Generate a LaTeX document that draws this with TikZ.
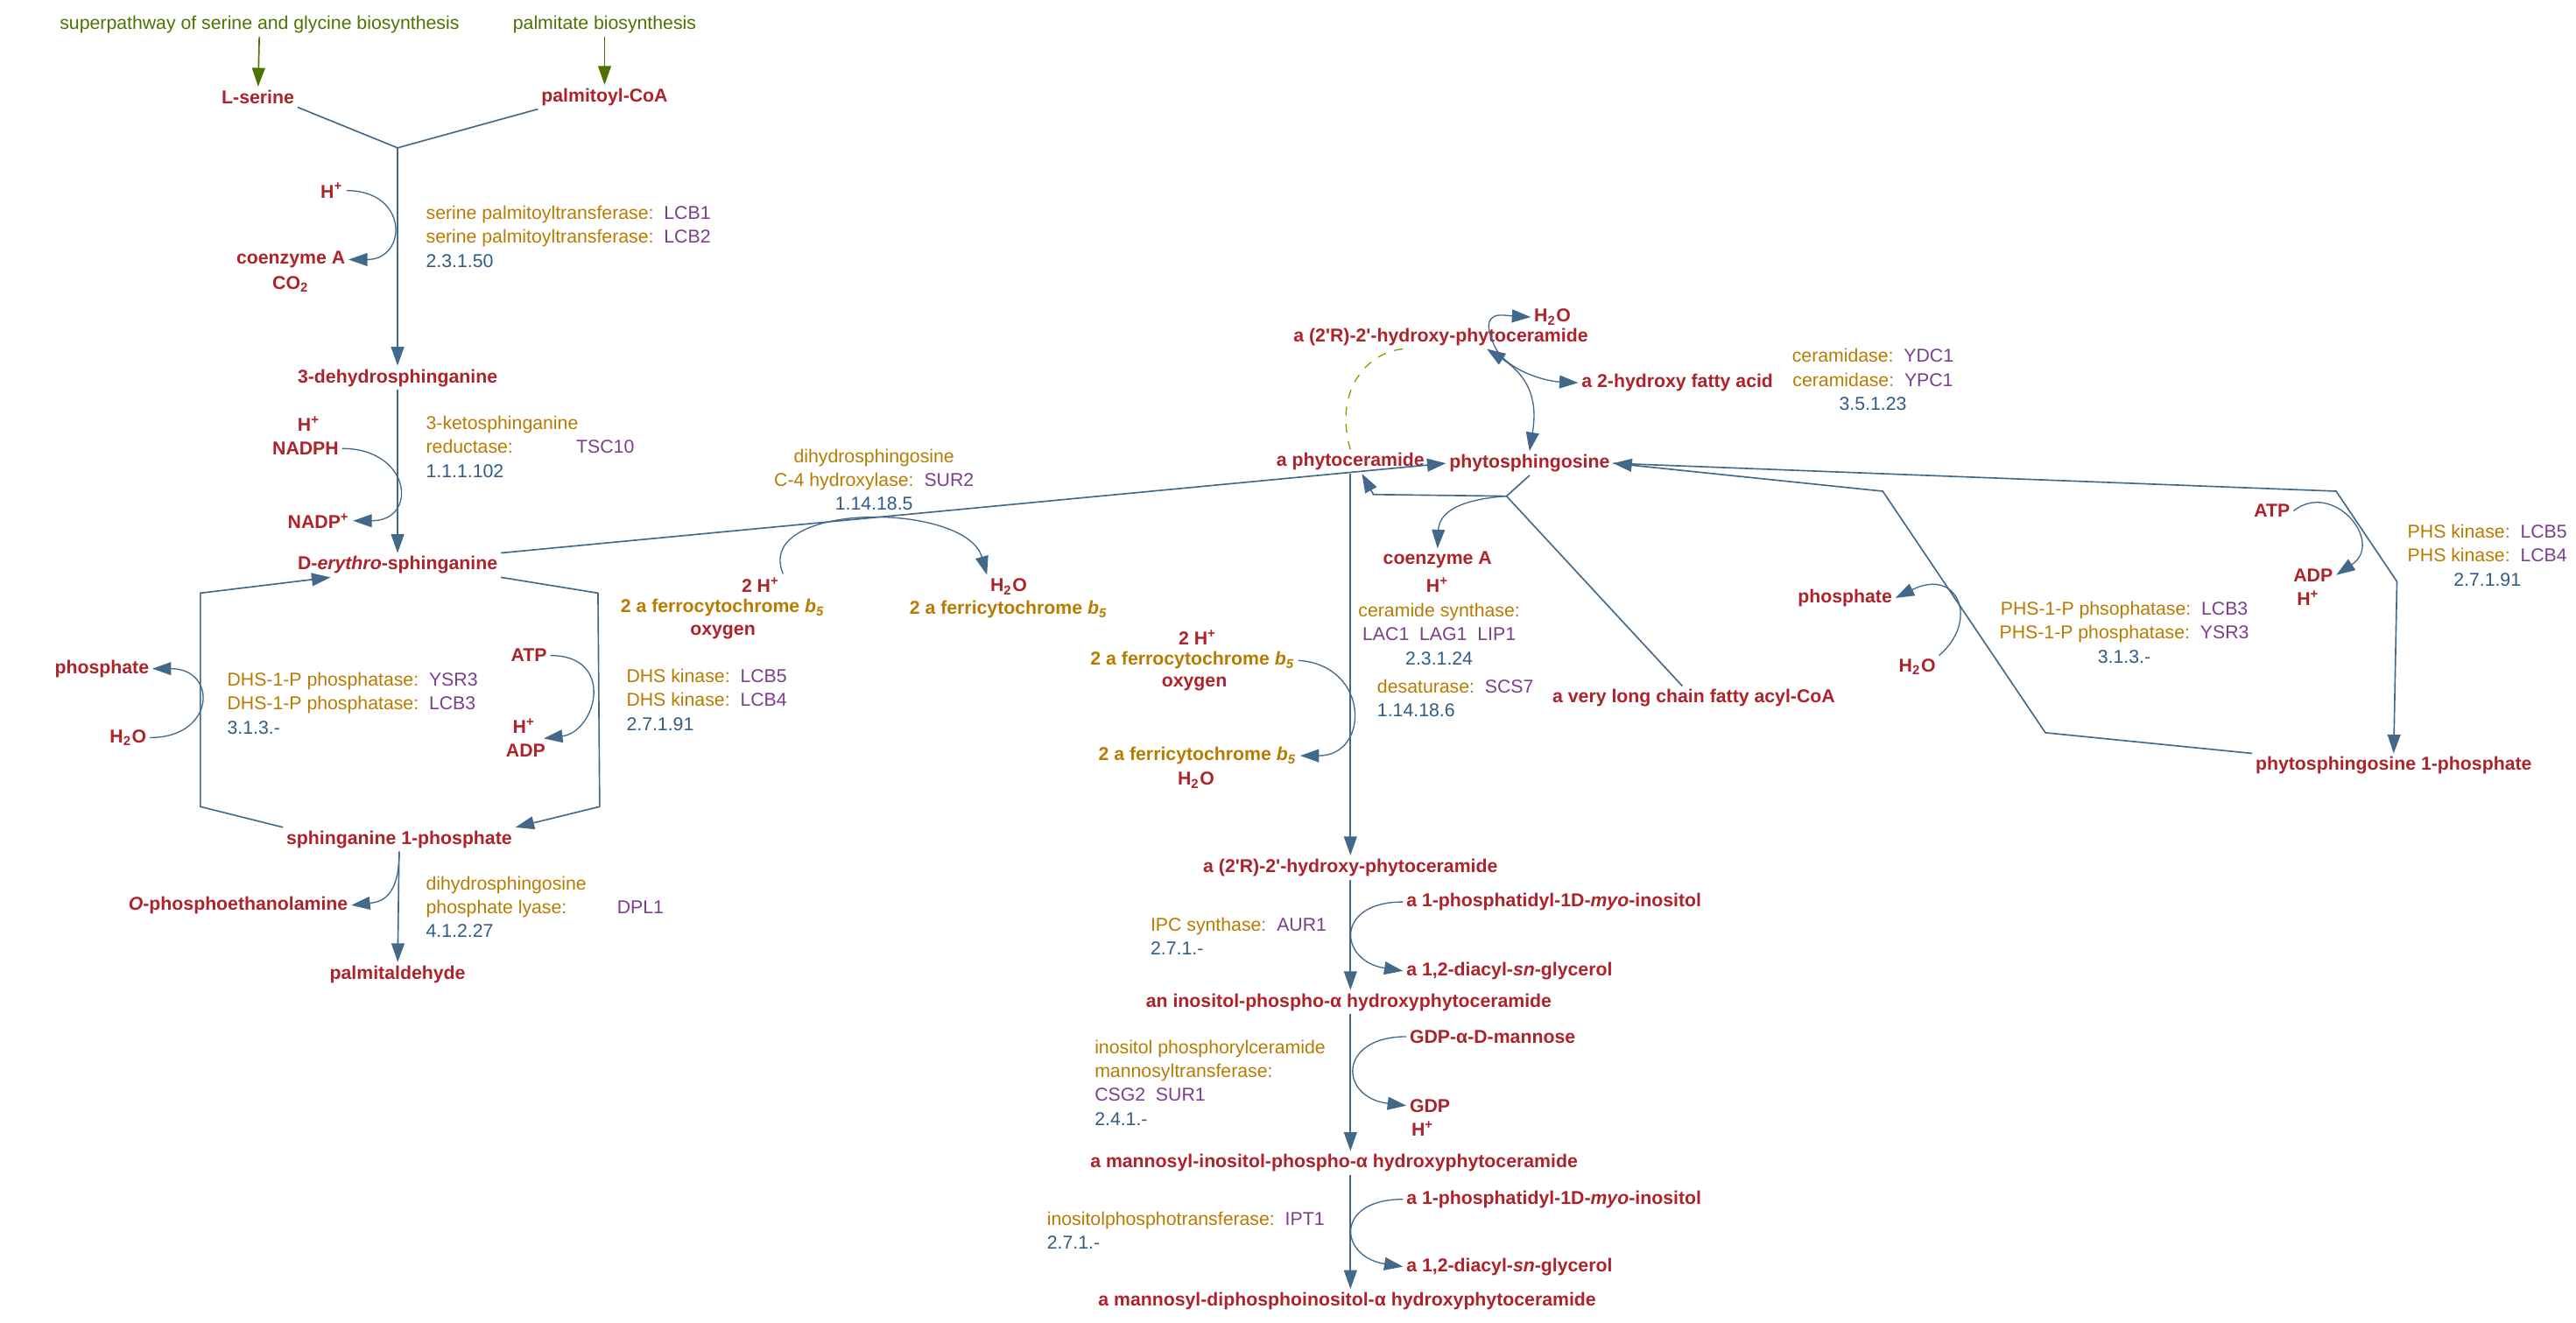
\documentclass[tikz,border=0pt]{standalone}
\usepackage{fontspec}
\setmainfont{Liberation Sans}
\usepackage{tikz}
\usetikzlibrary{positioning,arrows.meta,calc}
\definecolor{cpdred}{HTML}{AE2229}
\definecolor{enzor}{HTML}{B97A00}
\definecolor{genepu}{HTML}{7D3D8C}
\definecolor{ecbl}{HTML}{2F5B85}
\definecolor{arrbl}{HTML}{42698A}
\definecolor{lkgr}{HTML}{4C7300}
\newcommand\gn[1]{\textcolor{genepu}{#1}}
\newcommand\ec[1]{\textcolor{ecbl}{#1}}
\newcommand\bfive{\textit{b}\textsubscript{\textit{5}}}
\newcommand\pr{\textquotesingle}
\begin{document}
\begin{tikzpicture}[x=0.02cm,y=-0.02cm,
                >={Triangle[length=6.5pt,width=4.5pt]},
                every node/.style={font=\fontsize{6.45}{8.3}\selectfont,inner sep=1pt},
                cpd/.style={font=\fontsize{6.45}{8.3}\selectfont\bfseries,text=cpdred},
                cyt/.style={font=\fontsize{6.45}{8.3}\selectfont\bfseries,text=enzor},
                ext/.style={text=lkgr},
                enz/.style={text=enzor,align=left,inner sep=0pt},
                rx/.style={draw=arrbl,line width=0.5pt},
                side/.style={draw=arrbl,line width=0.4pt},
                lk/.style={draw=lkgr,line width=0.5pt},
                gdash/.style={draw=lkgr!70!yellow,dashed,line width=0.4pt}]
                \useasboundingbox (0,0) rectangle (1568,805);
                % serine + palmitoyl-CoA
                \node[ext] (ssg) at (158,15) {superpathway of serine and glycine biosynthesis};
                \node[ext] (pb) at (368,15) {palmitate biosynthesis};
                \node[cpd] (ser) at (157,59) {L-serine};
                \node[cpd] (pcoa) at (368,59) {palmitoyl-CoA};
                \draw[lk,->] (ssg) -- (ser);
                \draw[lk,->] (pb) -- (pcoa);
                \coordinate (j1) at (242,90);
                \draw[rx] (ser.south east) -- (j1);
                \draw[rx] (pcoa.south west) -- (j1);
                \node[cpd] (dhs) at (242,230) {3-dehydrosphinganine};
                \draw[rx,->] (j1) -- (dhs);
                \node[cpd] (h1) at (202,116) {H\textsuperscript{+}};
                \node[cpd] (coa1) at (177,158) {coenzyme A};
                \node[cpd] (co2) at (177,173) {CO\textsubscript{2}};
                \draw[side,->] (h1.east) .. controls +(38,0) and +(36,0) .. (coa1.east);
                \node[enz,anchor=west] (spt) at (259,144)
                    {serine palmitoyltransferase:~~\gn{LCB1}\\serine palmitoyltransferase:~~\gn{LCB2}\\\ec{2.3.1.50}};
                % reductase
                \node[cpd] (h2) at (188,258) {H\textsuperscript{+}};
                \node[cpd] (nadph) at (186,273) {NADPH};
                \node[cpd] (nadp) at (194,317) {NADP\textsuperscript{+}};
                \draw[side,->] (nadph.east) .. controls +(42,0) and +(40,0) .. (nadp.east);
                \node[enz,anchor=west] (ksr) at (259,272)
                    {3-ketosphinganine\\reductase:\hspace{3.4em}\gn{TSC10}\\\ec{1.1.1.102}};
                \node[cpd] (spn) at (242,344) {D-\textit{erythro}-sphinganine};
                \draw[rx,->] (dhs) -- (spn);
                % phosphorylation loop
                \node[cpd] (s1p) at (243,511) {sphinganine 1-phosphate};
                \draw[rx,->] (spn.south east) -- (364,361) -- (365,491) -- (s1p.north east);
                \draw[rx,->] (s1p.north west) -- (122,491) -- (122,361) -- ($(spn.south west)+(22,0)$);
                \node[cpd] (atp1) at (322,399) {ATP};
                \node[cpd] (hp3) at (319,442) {H\textsuperscript{+}};
                \node[cpd] (adp1) at (320,457) {ADP};
                \draw[side,->] (atp1.east) .. controls +(40,0) and +(32,-4) .. ($(hp3.east)!.5!(adp1.east)$);
                \node[enz,anchor=west] (dhsk) at (381,426)
                    {DHS kinase:~~\gn{LCB5}\\DHS kinase:~~\gn{LCB4}\\\ec{2.7.1.91}};
                \node[cpd] (phos1) at (62,407) {phosphate};
                \node[cpd] (wt1) at (78,449) {H\textsubscript{2}O};
                \draw[side,->] (wt1.east) .. controls +(40,0) and +(40,0) .. (phos1.east);
                \node[enz,anchor=west] (dhsp) at (138,428)
                    {DHS-1-P phosphatase:~~\gn{YSR3}\\DHS-1-P phosphatase:~~\gn{LCB3}\\\ec{3.1.3.-}};
                % lyase
                \node[cpd] (pald) at (242,593) {palmitaldehyde};
                \node[cpd] (opea) at (145,551) {\textit{O}-phosphoethanolamine};
                \draw[rx,->] (s1p) -- (pald);
                \draw[side,->] (s1p.south) .. controls +(0,28) and +(18,-2) .. (opea.east);
                \node[enz,anchor=west] (dpl) at (259,552)
                    {dihydrosphingosine\\phosphate lyase:\hspace{2.7em}\gn{DPL1}\\\ec{4.1.2.27}};
                % hydroxylase
                \node[cpd] (phcer) at (822,281) {a phytoceramide};
                \node[cpd] (phs) at (931,282) {phytosphingosine};
                \draw[rx,->] (spn.north east) -- (phs.west);
                \node[enz,align=center] (hyd) at (532,292)
                    {dihydrosphingosine\\C-4 hydroxylase:~~\gn{SUR2}\\\ec{1.14.18.5}};
                \node[cpd] (hh1) at (463,356) {2 H\textsuperscript{+}};
                \node[cyt] (fc1) at (440,370) {2 a ferrocytochrome \bfive};
                \node[cpd] (ox1) at (440,385) {oxygen};
                \node[cpd] (wt2) at (614,357) {H\textsubscript{2}O};
                \node[cyt] (fi1) at (614,371) {2 a ferricytochrome \bfive};
                \draw[side,->] (hh1.north east) .. controls (458,305) and (588,305) .. (wt2.north west);
                % ceramidase
                \node[cpd] (ohcer) at (877,205) {a (2\pr R)-2\pr-hydroxy-phytoceramide};
                \node[cpd] (wt3) at (945,193) {H\textsubscript{2}O};
                \node[cpd] (hfa) at (1021,233) {a 2-hydroxy fatty acid};
                \draw[gdash] (phcer.north) .. controls (812,240) and (830,215) .. ($(ohcer.south)+(-23,0)$);
                \draw[side,<->] ($(ohcer.south)+(28,0)$) .. controls (935,232) and (935,250) .. (phs.north);
                \coordinate (cb) at (909,209);
                \draw[side,->] (cb) .. controls (900,188) and (915,192) .. (wt3.west);
                \draw[side,->] (cb) .. controls (915,225) and (940,232) .. (hfa.west);
                \node[enz,align=center] (cdase) at (1140,231)
                    {ceramidase:~~\gn{YDC1}\\ceramidase:~~\gn{YPC1}\\\ec{3.5.1.23}};
                % ceramide synthase
                \node[cpd] (vlc) at (1031,425) {a very long chain fatty acyl-CoA};
                \coordinate (js) at (917,302);
                \draw[rx] (phs.south) -- (js);
                \draw[rx] (js) -- ($(vlc.north)+(-7,0)$);
                \draw[rx,->] (js) -- (836,301) -- ($(phcer.south)+(7,0)$);
                \node[cpd] (coa2) at (875,341) {coenzyme A};
                \node[cpd] (hp2) at (875,356) {H\textsuperscript{+}};
                \draw[side,->] (js) .. controls (888,304) and (876,312) .. (coa2.north);
                \node[enz,align=center] (csyn) at (876,386)
                    {ceramide synthase:\\\gn{LAC1~~LAG1~~LIP1}\\\ec{2.3.1.24}};
                \node[enz,anchor=west] (desat) at (838,425) {desaturase:~~\gn{SCS7}\\\ec{1.14.18.6}};
                \node[cpd] (ohcer2) at (822,528) {a (2\pr R)-2\pr-hydroxy-phytoceramide};
                \draw[rx,->] (phcer.south) -- (ohcer2.north);
                \node[cpd] (hh2) at (729,388) {2 H\textsuperscript{+}};
                \node[cyt] (fc2) at (726,402) {2 a ferrocytochrome \bfive};
                \node[cpd] (ox2) at (727,416) {oxygen};
                \node[cyt] (fi2) at (729,460) {2 a ferricytochrome \bfive};
                \node[cpd] (wt4) at (728,475) {H\textsubscript{2}O};
                \draw[side,->] (fc2.east) .. controls (834,405) and (834,460) .. (fi2.east);
                % IPC synthase
                \node[cpd,anchor=west] (pi1) at (854,549) {a 1-phosphatidyl-1D-\textit{myo}-inositol};
                \node[cpd,anchor=west] (dag1) at (854,591) {a 1,2-diacyl-\textit{sn}-glycerol};
                \draw[side,->] (pi1.west) .. controls (812,549) and (815,585) .. (dag1.west);
                \node[enz,anchor=west] (ipc) at (700,570) {IPC synthase:~~\gn{AUR1}\\\ec{2.7.1.-}};
                \node[cpd] (ipcer) at (821,610) {an inositol-phospho-α hydroxyphytoceramide};
                \draw[rx,->] (ohcer2.south) -- (ohcer2.south |- ipcer.north);
                % mannosyltransferase
                \node[cpd,anchor=west] (gdpm) at (856,631) {GDP-α-D-mannose};
                \node[cpd,anchor=west] (gdp) at (856,673) {GDP};
                \node[cpd] (hp4) at (866,687) {H\textsuperscript{+}};
                \draw[side,->] (gdpm.west) .. controls (814,631) and (815,668) .. (gdp.west);
                \node[enz,anchor=west] (mipct) at (666,659)
                    {inositol phosphorylceramide\\mannosyltransferase:\\\gn{CSG2~~SUR1}\\\ec{2.4.1.-}};
                \node[cpd] (mipc) at (812,708) {a mannosyl-inositol-phospho-α hydroxyphytoceramide};
                \draw[rx,->] (ohcer2.south |- ipcer.south) -- (ohcer2.south |- mipc.north);
                % inositolphosphotransferase
                \node[cpd,anchor=west] (pi2) at (854,730) {a 1-phosphatidyl-1D-\textit{myo}-inositol};
                \node[cpd,anchor=west] (dag2) at (854,771) {a 1,2-diacyl-\textit{sn}-glycerol};
                \draw[side,->] (pi2.west) .. controls (812,730) and (815,765) .. (dag2.west);
                \node[enz,anchor=west] (ipt) at (637,749) {inositolphosphotransferase:~~\gn{IPT1}\\\ec{2.7.1.-}};
                \node[cpd] (m2ipc) at (820,792) {a mannosyl-diphosphoinositol-α hydroxyphytoceramide};
                \draw[rx,->] (ohcer2.south |- mipc.south) -- (ohcer2.south |- m2ipc.north);
                % phytosphingosine 1-phosphate
                \node[cpd] (p1p) at (1457,466) {phytosphingosine 1-phosphate};
                \draw[rx,->] (phs.east) -- (1422,299) -- (1459,354) -- (p1p.north);
                \draw[rx,->] (p1p.north west) -- (1245,446) -- (1146,299) -- (phs.east);
                \node[cpd] (atp2) at (1383,311) {ATP};
                \node[cpd] (adp2) at (1408,350) {ADP};
                \node[cpd] (hp5) at (1405,364) {H\textsuperscript{+}};
                \draw[side,->] (atp2.east) .. controls (1420,292) and (1452,330) .. (adp2.east);
                \node[enz,align=center] (phsk) at (1514,338)
                    {PHS kinase:~~\gn{LCB5}\\PHS kinase:~~\gn{LCB4}\\\ec{2.7.1.91}};
                \node[cpd] (phos2) at (1123,364) {phosphate};
                \node[cpd] (wt5) at (1167,406) {H\textsubscript{2}O};
                \draw[side,->] (wt5.north east) .. controls (1205,378) and (1192,345) .. (phos2.east);
                \node[enz,align=center] (php) at (1293,385)
                    {PHS-1-P phsophatase:~~\gn{LCB3}\\PHS-1-P phosphatase:~~\gn{YSR3}\\\ec{3.1.3.-}};
            \end{tikzpicture}
\end{document}
